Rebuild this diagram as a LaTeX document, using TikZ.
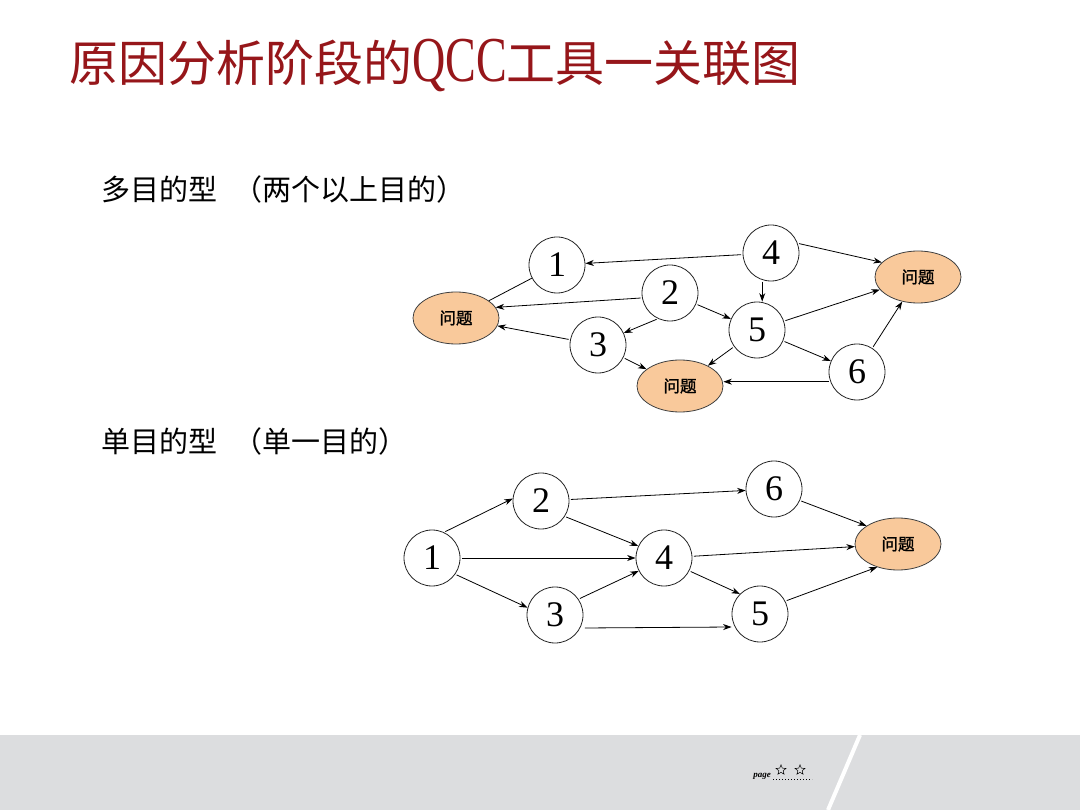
\documentclass[tikz,border=0pt]{standalone}
\usepackage{fontspec}
\usepackage{graphicx}
\setmainfont{Liberation Serif}
\newfontfamily\cjk{Noto Sans CJK SC}
\newfontfamily\cjkbold[FakeBold=1.5]{Noto Sans CJK SC}
\usetikzlibrary{arrows.meta,shapes.geometric}
\definecolor{titlered}{RGB}{150,22,26}
\definecolor{peach}{RGB}{249,201,155}
\definecolor{band}{RGB}{220,221,223}
\begin{document}
\begin{tikzpicture}[x=1pt,y=-1pt,
  num/.style={circle,draw=black!85,line width=0.8pt,fill=white,minimum size=56pt,inner sep=0pt,font=\fontsize{36}{36}\selectfont},
  goal/.style={ellipse,draw=black!75,line width=0.8pt,fill=peach,minimum width=86pt,minimum height=52pt,inner sep=0pt,font=\cjkbold\fontsize{16.5}{16.5}\selectfont},
  arr/.style={-{Stealth[length=8.5pt,width=6pt]},line width=0.8pt,shorten <=1.5pt},
  lnk/.style={line width=0.8pt},
  heading/.style={anchor=west,font=\cjk\fontsize{29}{29}\selectfont},
  starmark/.style={star,star points=5,star point ratio=2.3,draw,line width=0.5pt,inner sep=1.6pt}]
\useasboundingbox (0,0) rectangle (1080,810);
\fill[white] (0,0) rectangle (1080,810);
% footer band
\fill[band] (0,735) rectangle (1080,810);
\draw[white,line width=4pt] (860,735) -- (828,810);
\node[font=\bfseries\itshape\fontsize{9}{9}\selectfont,inner sep=0pt] (logo) at (762,776) {page};
\node[starmark] (st1) at (781,770) {};
\node[starmark] (st2) at (800,770) {};
\draw[line width=1pt,dotted] (773,779) -- (812,779);
% title
\node[anchor=west,text=titlered,font=\cjk\fontsize{49}{49}\selectfont,inner sep=0pt] (title) at (69,66) {原因分析阶段的\scalebox{0.72}[1]{\rmfamily\fontsize{64}{64}\selectfont QCC}工具一关联图};
% headings
\node[heading] (h1) at (98,189) {多目的型\hspace{16pt}（两个以上目的）};
\node[heading] (h2) at (98,441) {单目的型\hspace{16pt}（单一目的）};
% upper diagram
\node[goal] (uL) at (456,318) {问题};
\node[goal] (uR) at (918,277) {问题};
\node[goal] (uB) at (680,386) {问题};
\node[num] (u1) at (557,265) {1};
\node[num] (u4) at (771,253) {4};
\node[num] (u2) at (670,293) {2};
\node[num] (u3) at (598,345) {3};
\node[num] (u5) at (757,330) {5};
\node[num] (u6) at (857,372) {6};
\draw[lnk] (u1) -- (uL);
\draw[arr] (u4) -- (u1);
\draw[arr] (u4.20) -- (uR.158);
\draw[arr] (u4.252) -- (u4.252 |- u5.north);
\draw[arr] (u2.190) -- (uL.15);
\draw[arr] (u2.245) -- (u3.25);
\draw[arr] (u2) -- (u5);
\draw[arr] (u3) -- (uL);
\draw[arr] (u3) -- (uB);
\draw[arr] (u5) -- (uR);
\draw[arr] (u5) -- (u6);
\draw[arr] (u5) -- (uB);
\draw[arr] (u6) -- (uR);
\draw[arr] (u6.200) -- (u6.200 -| uB.east);
% lower diagram
\node[goal] (lE) at (898,544) {问题};
\node[num] (l1) at (432,558) {1};
\node[num] (l2) at (541,501) {2};
\node[num] (l3) at (555,615) {3};
\node[num] (l4) at (664,558) {4};
\node[num] (l5) at (760,614) {5};
\node[num] (l6) at (774,489) {6};
\draw[arr] (l1.65) -- (l2.175);
\draw[arr] (l1) -- (l4);
\draw[arr] (l1.-35) -- (l3.165);
\draw[arr] (l2) -- (l6);
\draw[arr] (l2.-33) -- (l4.155);
\draw[arr] (l3.34) -- (l4.207);
\draw[arr] ([yshift=-13pt]l3.east) -- ([yshift=-13pt]l5.west);
\draw[arr] (l4) -- (lE);
\draw[arr] (l4.-27) -- (l5.135);
\draw[arr] (l5.27) -- (lE.228);
\draw[arr] (l6.-24) -- (lE.150);
\end{tikzpicture}
\end{document}
